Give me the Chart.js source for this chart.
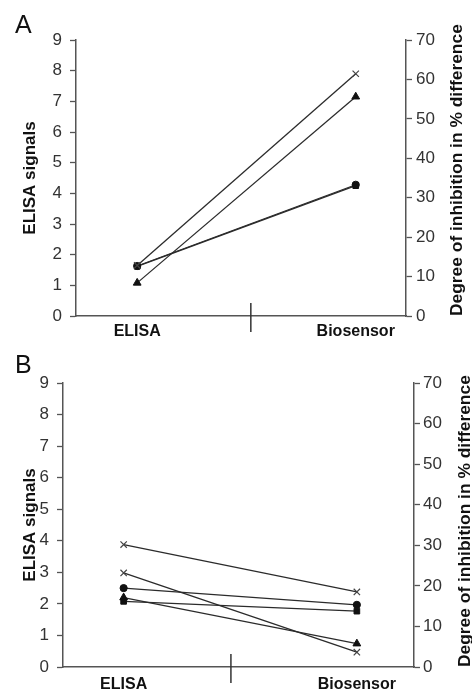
<!DOCTYPE html>
<html>
<head>
<meta charset="utf-8">
<script src="https://cdn.jsdelivr.net/npm/chart.js@4.4.1/dist/chart.umd.min.js"></script>
<style>
  body { margin: 0; background: #fff; width: 472px; height: 691px; position: relative; overflow: hidden;
         font-family: "Liberation Sans", Arial, sans-serif; }
  .panel { position: absolute; left: 0; width: 472px; }
  #pa { top: 0; height: 345px; }
  #pb { top: 345px; height: 346px; }
  .letter { position: absolute; font-size: 25px; line-height: 1; color: #111; }
</style>
</head>
<body>
<div class="panel" id="pa"><canvas id="chartA"></canvas></div>
<div class="panel" id="pb"><canvas id="chartB"></canvas></div>
<div class="letter" style="left:15px;top:12px">A</div>
<div class="letter" style="left:15px;top:352px">B</div>
<script>
// categories on the x axis
const categories = ["ELISA", "Biosensor"];
const leftTitle = "ELISA signals";
const rightTitle = "Degree of inhibition in % difference";

// left axis ticks 0..9, right axis ticks 0..70
const leftTicks = [0, 1, 2, 3, 4, 5, 6, 7, 8, 9];
const rightTicks = [0, 10, 20, 30, 40, 50, 60, 70];

// panel A, ELISA signal values (ELISA, Biosensor)
const aCross = [1.65, 7.9];
const aTriangle = [1.08, 7.15];
const aCircle = [1.63, 4.28];
const aSquare = [1.62, 4.25];

// panel B
const bCrossTop = [3.88, 2.38];
const bCrossLow = [2.98, 0.47];
const bCircle = [2.5, 1.97];
const bTriangle = [2.2, 0.74];
const bSquare = [2.08, 1.77];

const seriesA = [
  { style: "crossRot", values: aCross },
  { style: "triangle", values: aTriangle },
  { style: "circle", values: aCircle },
  { style: "rect", values: aSquare },
];
const seriesB = [
  { style: "crossRot", values: bCrossTop },
  { style: "crossRot", values: bCrossLow },
  { style: "circle", values: bCircle },
  { style: "triangle", values: bTriangle },
  { style: "rect", values: bSquare },
];

const FONT = '"Liberation Sans", Arial, sans-serif';
const AXIS = "#555";

// divider mark on the x axis and the right title, read bottom to top
const extras = {
  id: "extras",
  afterDraw(chart, args, o) {
    const { ctx, chartArea, scales } = chart;
    const x = scales.x.getPixelForValue(o.divider);
    ctx.save();
    ctx.strokeStyle = "#333";
    ctx.lineWidth = 1.5;
    ctx.beginPath();
    ctx.moveTo(x, chartArea.bottom - 13);
    ctx.lineTo(x, chartArea.bottom + 16);
    ctx.stroke();
    ctx.translate(o.titleX, chartArea.bottom);
    ctx.rotate(-Math.PI / 2);
    ctx.font = "bold 17.4px " + FONT;
    ctx.fillStyle = "#111";
    ctx.textAlign = "left";
    ctx.textBaseline = "middle";
    ctx.fillText(rightTitle, 0, 0);
    ctx.restore();
  }
};

function radiusFor(style) {
  if (style === "crossRot") return 4.5;
  if (style === "triangle") return 4.5;
  if (style === "rect") return 4;
  return 3.6;
}

function makeChart(id, series, lay) {
  const datasets = series.map(s => ({
    data: s.values.map((v, i) => ({ x: i + 1, y: v })),
    yAxisID: "y",
    borderColor: "#2b2b2b",
    borderWidth: 1.3,
    pointStyle: s.style,
    pointRadius: radiusFor(s.style),
    pointBackgroundColor: "#111",
    pointBorderColor: s.style === "crossRot" ? "#444" : "#111",
    pointBorderWidth: s.style === "crossRot" ? 1.2 : 1,
    fill: false,
    tension: 0
  }));

  return new Chart(document.getElementById(id), {
    type: "line",
    data: { datasets },
    plugins: [extras],
    options: {
      responsive: true,
      maintainAspectRatio: false,
      animation: false,
      layout: { padding: { top: lay.top, left: 0, right: 0, bottom: 0 } },
      plugins: {
        legend: { display: false },
        tooltip: { enabled: false },
        extras: { divider: lay.divider, titleX: lay.titleX }
      },
      scales: {
        x: {
          type: "linear",
          min: lay.xMin,
          max: lay.xMax,
          afterBuildTicks: s => { s.ticks = categories.map((c, i) => ({ value: i + 1 })); },
          afterFit: s => { s.height = lay.bottomH; },
          grid: { display: true, drawOnChartArea: false, drawTicks: false },
          border: { display: true, color: AXIS, width: 1.5 },
          ticks: {
            autoSkip: false, maxRotation: 0, padding: lay.xPad,
            color: "#111", font: { family: FONT, size: 16, weight: "bold" },
            callback: v => categories[v - 1]
          }
        },
        y: {
          position: "left",
          min: 0, max: 9,
          afterBuildTicks: s => { s.ticks = leftTicks.map(v => ({ value: v })); },
          afterFit: s => { s.width = lay.leftW; },
          grid: { drawOnChartArea: false, drawTicks: true, tickLength: 6, tickColor: AXIS, tickWidth: 1.3 },
          border: { display: true, color: AXIS, width: 1.5 },
          ticks: { padding: 8, color: "#333", font: { family: FONT, size: 17 } },
          title: {
            display: true, text: leftTitle, color: "#111",
            font: { family: FONT, size: 17, weight: "bold" },
            padding: { top: 20, bottom: 0 }
          }
        },
        y2: {
          position: "right",
          min: 0, max: 70,
          afterBuildTicks: s => { s.ticks = rightTicks.map(v => ({ value: v })); },
          afterFit: s => { s.width = lay.rightW; },
          grid: { drawOnChartArea: false, drawTicks: true, tickLength: 6, tickColor: AXIS, tickWidth: 1.3 },
          border: { display: true, color: AXIS, width: 1.5 },
          ticks: { padding: lay.rPad, color: "#333", font: { family: FONT, size: 17 } }
        }
      }
    }
  });
}

makeChart("chartA", seriesA, {
  top: 40, leftW: 76, rightW: 66, bottomH: 29, xMin: 0.72, xMax: 2.23,
  divider: 1.52, titleX: 457, xPad: 6, rPad: 4
});
makeChart("chartB", seriesB, {
  top: 38, leftW: 63, rightW: 58, bottomH: 24, xMin: 0.74, xMax: 2.245,
  divider: 1.46, titleX: 465, xPad: 8, rPad: 3
});
</script>
</body>
</html>
